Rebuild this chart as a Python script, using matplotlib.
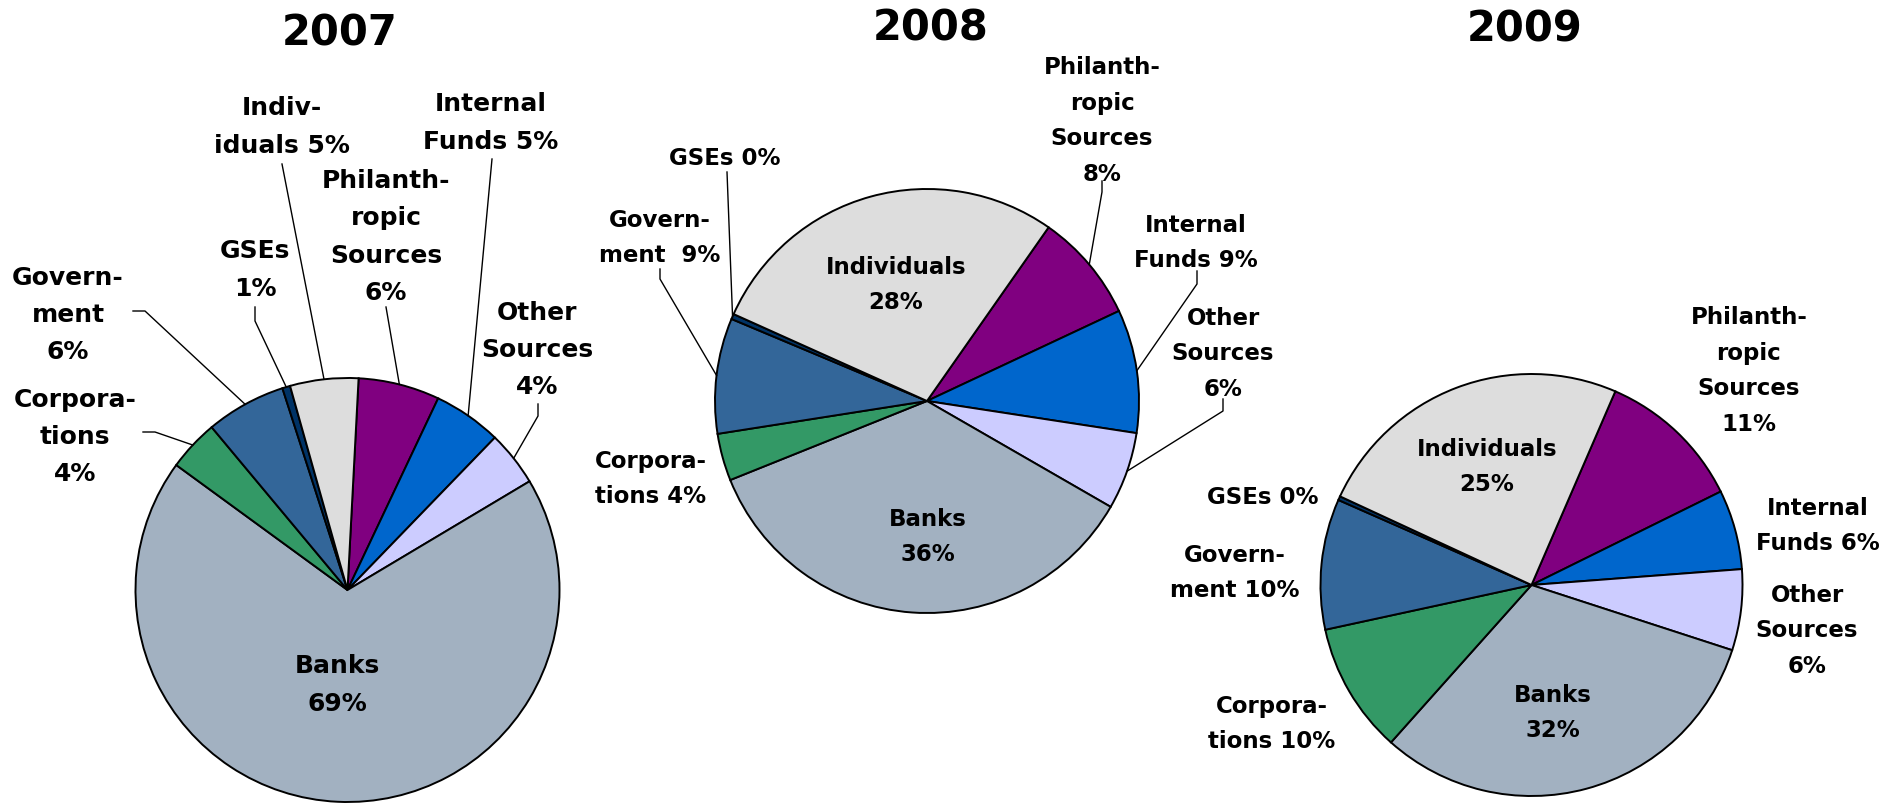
import numpy as np
import matplotlib
matplotlib.use('Agg')
import matplotlib.pyplot as plt

W, H = 1902, 804

# slices go clockwise in this order, starting at the startangle
categories = ['Philanthropic Sources', 'Internal Funds', 'Other Sources', 'Banks',
              'Corporations', 'Government', 'GSEs', 'Individuals']
colors = ['#800080', '#0066CC', '#CCCCFF', '#A2B1C1', '#339966', '#336699', '#003366', '#DDDDDD']

years = ['2007', '2008', '2009']
shares_2007 = [6.2, 5.2, 4.2, 68.6, 3.9, 6.1, 0.6, 5.2]
shares_2008 = [8.3, 9.4, 5.9, 35.6, 3.6, 8.8, 0.4, 28.0]
shares_2009 = [11.2, 6.1, 6.2, 31.6, 10.0, 10.0, 0.3, 24.6]

# label text, the percent gets appended
names_2007 = ['Philanth-\nropic\nSources\n', 'Internal\nFunds ', 'Other\nSources\n', 'Banks\n',
              'Corpora-\ntions\n', 'Govern-\nment\n', 'GSEs\n', 'Indiv-\niduals ']
names_2008 = ['Philanth-\nropic\nSources\n', 'Internal\nFunds ', 'Other\nSources\n', 'Banks\n',
              'Corpora-\ntions ', 'Govern-\nment  ', 'GSEs ', 'Individuals\n']
names_2009 = ['Philanth-\nropic\nSources\n', 'Internal\nFunds ', 'Other\nSources\n', 'Banks\n',
              'Corpora-\ntions ', 'Govern-\nment ', 'GSEs ', 'Individuals\n']

# layout (pixels, y down): center, radius, start angle, label font size, title pos
pies = [
    dict(year='2007', shares=shares_2007, names=names_2007, c=(347.5, 591), r=212, start=87,
         fs=18, title=(340, 46),
         pos=[(386, 237), (491, 123), (537, 350), (337, 685), (75, 437), (68, 315), (255, 270), (282, 127)],
         leaders={0: [(386, 308)], 1: [(492, 160)], 2: [(538, 405), (538, 417)],
                  4: [(143, 433), (155, 433)], 5: [(133, 312), (145, 312)],
                  6: [(255, 308), (255, 322)], 7: [(282, 165)]}),
    dict(year='2008', shares=shares_2008, names=names_2008, c=(927, 402), r=212, start=55,
         fs=16.5, title=(931, 40),
         pos=[(1102, 121), (1196, 243), (1223, 354), (928, 537), (651, 479), (660, 238), (725, 158), (896, 285)],
         leaders={0: [(1102, 182), (1102, 193)], 1: [(1197, 272), (1197, 285)],
                  2: [(1223, 400), (1223, 412)], 5: [(660, 270), (660, 280)],
                  6: [(727, 173)]}),
    dict(year='2009', shares=shares_2009, names=names_2009, c=(1531.5, 586), r=211, start=66.6,
         fs=16.5, title=(1525, 42),
         pos=[(1749, 371), (1818, 526), (1807, 631), (1553, 713), (1272, 724), (1235, 573), (1263, 498), (1487, 467)],
         leaders={}),
]

fig = plt.figure(figsize=(W / 100, H / 100), dpi=100)

for p in pies:
    cx, cy = p['c']
    r = p['r']
    ax = fig.add_axes([(cx - r) / W, (H - cy - r) / H, 2 * r / W, 2 * r / H])
    wedges, _ = ax.pie(p['shares'], colors=colors, startangle=p['start'], counterclock=False,
                       radius=1, wedgeprops=dict(edgecolor='black', linewidth=1.4))
    ax.set_xlim(-1, 1)
    ax.set_ylim(-1, 1)
    ax.set_aspect('auto')
    ax.axis('off')

    # pixel -> this axes' data coords
    def to_data(px, py):
        return (px - cx) / r, (cy - py) / r

    for i, (name, v) in enumerate(zip(p['names'], p['shares'])):
        x, y = to_data(*p['pos'][i])
        ax.text(x, y, name + '%d%%' % round(v), ha='center', va='center', fontsize=p['fs'],
                fontweight='bold', family='DejaVu Sans', linespacing=1.7, multialignment='center')
        if i in p['leaders']:
            w = wedges[i]
            mid = np.deg2rad((w.theta1 + w.theta2) / 2)
            pts = [to_data(*q) for q in p['leaders'][i]] + [(np.cos(mid), np.sin(mid))]
            xs, ys = zip(*pts)
            ax.plot(xs, ys, color='black', lw=1, clip_on=False)

    tx, ty = to_data(*p['title'])
    ax.text(tx, ty, p['year'], ha='center', va='baseline', fontsize=30, fontweight='bold',
            family='DejaVu Sans')

fig.savefig('out.png', dpi=100)
